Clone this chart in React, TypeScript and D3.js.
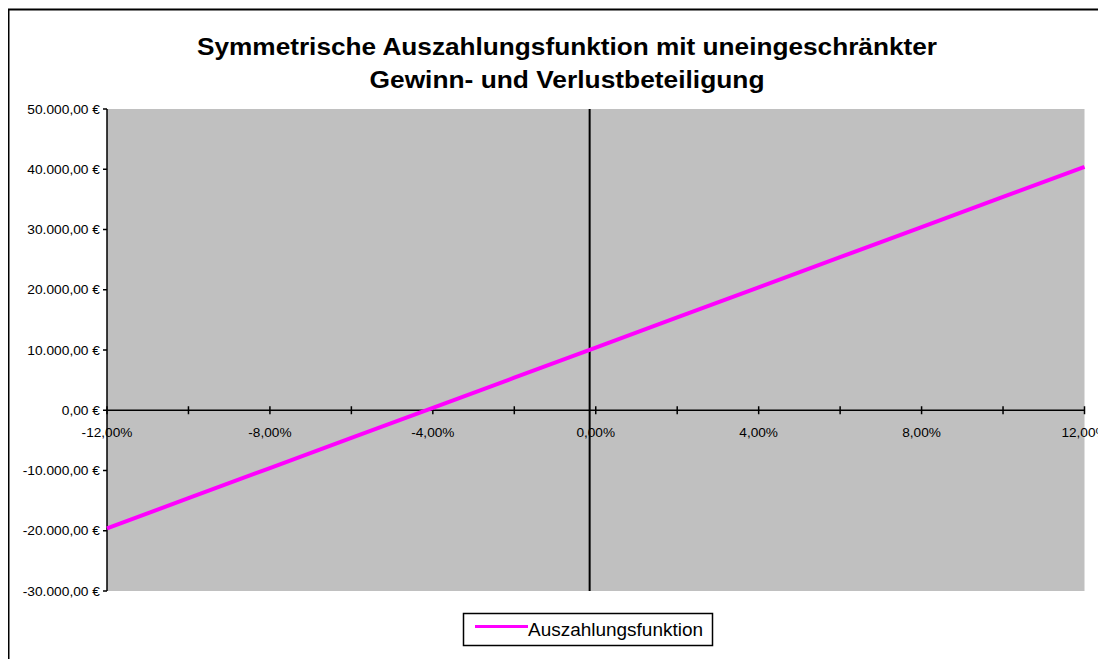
import React from "react";
import * as d3 from "d3";

const titleLines = [
  "Symmetrische Auszahlungsfunktion mit uneingeschränkter",
  "Gewinn- und Verlustbeteiligung",
];
const seriesName = "Auszahlungsfunktion";
const xValues = [-12, -10, -8, -6, -4, -2, 0, 2, 4, 6, 8, 10, 12];
const payoffValues = [-19600, -14600, -9600, -4600, 400, 5400, 10400, 15400, 20400, 25400, 30400, 35400, 40400];
const xTicks = [-12, -10, -8, -6, -4, -2, 0, 2, 4, 6, 8, 10, 12];
const xLabelTicks = [-12, -8, -4, 0, 4, 8, 12];
const yTicks = [-30000, -20000, -10000, 0, 10000, 20000, 30000, 40000, 50000];
const verticalMarkerX = [-0.15];

const locale = d3.formatLocale({
  decimal: ",",
  thousands: ".",
  grouping: [3],
  currency: ["", " €"],
  minus: "-",
});
const fmtEuro = (v: number) => locale.format(",.2f")(v) + " €";
const fmtPct = (v: number) => locale.format(".2f")(v) + "%";

export default function App() {
  const W = 1098;
  const H = 651;
  const left = 107;
  const right = 1084.5;
  const top = 109;
  const bottom = 591;
  const x = d3.scaleLinear().domain([-12, 12]).range([left, right]);
  const y = d3.scaleLinear().domain([-30000, 50000]).range([bottom, top]);
  const y0 = y(0);
  const font = "'Liberation Sans', Arial, sans-serif";
  const line = d3
    .line<number>()
    .x((_, i) => x(xValues[i]))
    .y((d) => y(d));

  return (
    <svg width={W} height={H} style={{ display: "block" }}>
      <g transform="translate(-8,-8)">
        <rect x={0} y={0} width={1200} height={800} fill="#ffffff" />
        <rect x={8.5} y={9.5} width={1200} height={800} fill="none" stroke="#000" strokeWidth={2} />
        {/* title */}
        <text
          x={567}
          y={55}
          textAnchor="middle"
          fontFamily={font}
          fontWeight="bold"
          fontSize={23.5}
          textLength={740}
          lengthAdjust="spacingAndGlyphs"
        >
          {titleLines[0]}
        </text>
        <text
          x={567}
          y={88}
          textAnchor="middle"
          fontFamily={font}
          fontWeight="bold"
          fontSize={23.5}
          textLength={395}
          lengthAdjust="spacingAndGlyphs"
        >
          {titleLines[1]}
        </text>
        {/* plot area */}
        <rect x={left} y={top} width={right - left} height={bottom - top} fill="#C0C0C0" />
        {/* y axis */}
        <line x1={left} x2={left} y1={top} y2={bottom} stroke="#000" strokeWidth={1.5} />
        {yTicks.map((t) => (
          <g key={t}>
            <line x1={left - 4} x2={left} y1={y(t)} y2={y(t)} stroke="#000" strokeWidth={1.5} />
            <text
              transform={`translate(100,${y(t)}) scale(1.06,1)`}
              dy="0.35em"
              textAnchor="end"
              fontFamily={font}
              fontSize={13}
            >
              {fmtEuro(t)}
            </text>
          </g>
        ))}
        {/* x axis at zero */}
        <line x1={left} x2={right} y1={y0} y2={y0} stroke="#000" strokeWidth={1.5} />
        {xTicks.map((t) => (
          <line key={t} x1={x(t)} x2={x(t)} y1={y0 - 4} y2={y0 + 4} stroke="#000" strokeWidth={1.5} />
        ))}
        {xLabelTicks.map((t) => (
          <text
            key={t}
            transform={`translate(${x(t)},${y0 + 27}) scale(1.05,1)`}
            textAnchor="middle"
            fontFamily={font}
            fontSize={13}
          >
            {fmtPct(t)}
          </text>
        ))}
        {/* vertical marker */}
        {verticalMarkerX.map((v) => (
          <line key={v} x1={x(v)} x2={x(v)} y1={top} y2={bottom} stroke="#000" strokeWidth={2} />
        ))}
        {/* series */}
        <path d={line(payoffValues) || ""} fill="none" stroke="#FF00FF" strokeWidth={4} />
        {/* legend */}
        <rect x={463.5} y={613.5} width={249} height={32} fill="#fff" stroke="#000" strokeWidth={1.5} />
        <line x1={475} x2={528} y1={626.5} y2={626.5} stroke="#FF00FF" strokeWidth={3} />
        <text x={528} y={636} fontFamily={font} fontSize={17.5} textLength={175} lengthAdjust="spacingAndGlyphs">
          {seriesName}
        </text>
      </g>
    </svg>
  );
}
